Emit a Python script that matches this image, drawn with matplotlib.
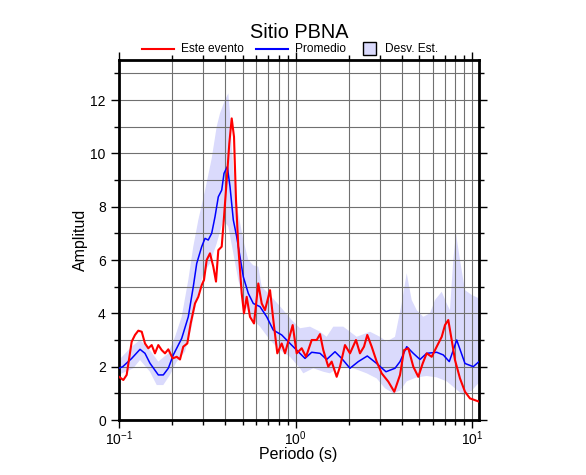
import numpy as np
import matplotlib
matplotlib.use('Agg')
import matplotlib.pyplot as plt
from matplotlib.lines import Line2D
from matplotlib.patches import Rectangle
from matplotlib.ticker import LogLocator, MultipleLocator, NullFormatter

plt.rcParams['font.family'] = ['Liberation Sans', 'DejaVu Sans']
plt.rcParams['mathtext.fontset'] = 'custom'
plt.rcParams['mathtext.rm'] = 'Liberation Sans'
plt.rcParams['mathtext.it'] = 'Liberation Sans:italic'
plt.rcParams['mathtext.bf'] = 'Liberation Sans:bold'

# --- datos ---
# Este evento
evento_T = [0.1, 0.1058, 0.1105, 0.118, 0.1232, 0.1286, 0.1345, 0.1403, 0.1465, 0.1531,
            0.1598, 0.1669, 0.1745, 0.1821, 0.1901, 0.2013, 0.2121, 0.2214, 0.2311, 0.2435,
            0.2545, 0.2692, 0.2811, 0.2938, 0.3027, 0.3135, 0.3273, 0.3417, 0.354, 0.3648,
            0.3813, 0.393, 0.407, 0.421, 0.4344, 0.4476, 0.4594, 0.4734, 0.4948, 0.5098,
            0.528, 0.5512, 0.5808, 0.6143, 0.6422, 0.6706, 0.7157, 0.747, 0.7869, 0.8333,
            0.8699, 0.9616, 1.013, 1.081, 1.144, 1.232, 1.315, 1.373, 1.433, 1.529,
            1.598, 1.706, 1.781, 1.901, 2.029, 2.194, 2.311, 2.435, 2.542, 2.692,
            2.873, 3.067, 3.342, 3.614, 3.894, 4.102, 4.339, 4.63, 4.941, 5.233,
            5.512, 5.884, 6.281, 6.706, 6.998, 7.304, 7.636, 7.971, 8.508, 9.081,
            9.692, 10.9]
evento_A = [1.62, 1.5, 1.69, 2.94, 3.19, 3.35, 3.31, 2.87, 2.69, 2.81,
            2.5, 2.81, 2.62, 2.5, 2.65, 2.31, 2.37, 2.27, 2.75, 2.87,
            3.62, 4.37, 4.62, 5.06, 5.25, 6.0, 6.25, 5.75, 5.19, 6.37,
            6.5, 7.62, 9.0, 10.37, 11.31, 10.62, 8.25, 6.5, 4.75, 4.0,
            4.62, 3.87, 3.62, 5.12, 4.37, 4.12, 4.87, 3.75, 2.5, 2.87,
            2.5, 3.56, 2.5, 2.69, 2.37, 3.0, 3.0, 3.22, 2.62, 2.0,
            2.19, 1.62, 2.0, 2.81, 2.5, 3.0, 2.5, 2.75, 3.19, 2.75,
            2.19, 1.75, 1.44, 1.06, 1.69, 2.62, 2.69, 2.0, 1.62, 2.12,
            2.5, 2.37, 2.75, 3.12, 3.56, 3.75, 3.0, 2.25, 1.56, 1.06,
            0.81, 0.69]

# Promedio
prom_T = [0.1, 0.105, 0.118, 0.1315, 0.1403, 0.1497, 0.1669, 0.1781, 0.1901, 0.2029,
          0.2264, 0.2467, 0.2633, 0.2753, 0.2938, 0.3067, 0.3201, 0.3346, 0.3494, 0.3648,
          0.3813, 0.393, 0.4102, 0.4249, 0.4436, 0.4636, 0.484, 0.5052, 0.5391, 0.5754,
          0.6281, 0.6856, 0.747, 0.8333, 0.9284, 1.013, 1.129, 1.232, 1.373, 1.497,
          1.669, 1.821, 2.029, 2.261, 2.542, 2.873, 3.243, 3.648, 3.894, 4.249,
          4.63, 5.052, 5.512, 6.281, 6.844, 7.4, 7.796, 8.15, 9.081, 10.12,
          10.9]
prom_A = [1.94, 2.0, 2.31, 2.65, 2.5, 2.13, 1.69, 1.69, 1.94, 2.44,
          3.06, 3.87, 5.0, 5.87, 6.5, 6.81, 6.75, 7.0, 7.62, 8.37,
          8.62, 9.25, 9.5, 8.75, 7.5, 6.87, 6.12, 5.37, 4.75, 4.37,
          4.25, 3.87, 3.37, 3.19, 2.87, 2.62, 2.31, 2.54, 2.5, 2.27,
          2.56, 2.31, 1.94, 2.19, 2.4, 2.12, 1.81, 1.94, 2.19, 2.75,
          2.5, 2.27, 2.5, 2.54, 2.44, 2.19, 2.62, 3.0, 2.12, 2.0,
          2.19]

# Desv. Est. (limite superior)
sup_T = [0.1, 0.118, 0.1315, 0.1497, 0.1669, 0.1901, 0.2075, 0.2264, 0.2467, 0.2633,
         0.2811, 0.3067, 0.3346, 0.3572, 0.373, 0.3981, 0.4156, 0.4249, 0.4344, 0.4535,
         0.4734, 0.5052, 0.5391, 0.5754, 0.6143, 0.6422, 0.73, 0.8333, 0.9493, 1.057,
         1.205, 1.373, 1.497, 1.632, 1.859, 2.029, 2.214, 2.633, 3.0, 3.273,
         3.648, 3.981, 4.249, 4.535, 4.84, 5.272, 5.754, 6.143, 6.706, 7.153,
         7.467, 7.796, 8.076, 8.508, 9.081, 9.909, 10.9]
sup_A = [2.25, 2.75, 3.0, 2.62, 2.19, 2.5, 3.12, 3.87, 5.25, 6.5,
         7.5, 8.6, 9.8, 11.0, 11.5, 12.0, 12.25, 11.5, 10.25, 8.7,
         7.75, 6.75, 6.0, 5.8, 5.75, 5.0, 4.62, 4.19, 3.75, 3.44,
         3.5, 3.31, 3.12, 3.5, 3.5, 3.31, 3.12, 3.31, 3.12, 2.94,
         3.12, 4.37, 5.5, 4.5, 4.12, 3.87, 4.0, 4.5, 4.81, 4.37,
         4.12, 6.0, 7.0, 6.0, 4.87, 4.69, 4.56]

# Desv. Est. (limite inferior)
inf_T = [0.1, 0.1205, 0.1315, 0.1497, 0.1635, 0.1781, 0.1944, 0.2121, 0.2363, 0.2579,
         0.2753, 0.3, 0.3273, 0.3572, 0.3894, 0.4156, 0.4436, 0.4734, 0.5052, 0.5512,
         0.6281, 0.7157, 0.8149, 0.9284, 1.057, 1.104, 1.258, 1.433, 1.564, 1.781,
         2.118, 2.522, 2.873, 3.201, 3.567, 3.894, 4.249, 4.84, 5.512, 6.281,
         7.153, 7.971, 8.882, 9.909, 10.9]
inf_A = [1.7, 1.94, 2.25, 1.81, 1.31, 1.31, 1.69, 2.19, 2.56, 3.5,
         4.5, 5.5, 5.87, 6.62, 7.5, 7.25, 6.25, 5.25, 4.5, 3.87,
         3.5, 3.0, 2.62, 2.37, 1.94, 1.75, 1.94, 1.81, 1.75, 2.0,
         1.94, 1.75, 1.56, 1.19, 1.0, 1.1, 1.45, 1.6, 1.65, 1.6,
         1.45, 1.19, 0.92, 1.1, 1.4]

color_banda = '#dadafc'

W, H = 586, 475
fig = plt.figure(figsize=(W / 100, H / 100), dpi=100)
ax = fig.add_axes([119 / W, 1 - 420 / H, 360 / W, 360 / H])

# banda de desviacion estandar
ax.fill(np.concatenate([sup_T, inf_T[::-1]]), np.concatenate([sup_A, inf_A[::-1]]),
        color=color_banda, lw=0, zorder=1)
ax.plot(prom_T, prom_A, color='#0000ff', lw=1.1, zorder=3)
ax.plot(evento_T, evento_A, color='#ff0000', lw=1.5, zorder=4)

ax.set_xscale('log')
ax.set_xlim(0.1, 10.9)
ax.set_ylim(0, 13.5)

ax.xaxis.set_major_locator(LogLocator(base=10))
ax.xaxis.set_minor_locator(LogLocator(base=10, subs=np.arange(2, 10)))
ax.xaxis.set_minor_formatter(NullFormatter())
ax.yaxis.set_major_locator(MultipleLocator(2))
ax.yaxis.set_minor_locator(MultipleLocator(1))

ax.set_axisbelow('line')
ax.grid(True, which='both', color='#707070', lw=0.8)

ax.tick_params(which='both', direction='out', top=True, right=True, labelsize=10,
               width=1)
ax.tick_params(which='major', length=6)
ax.tick_params(which='minor', length=3.5)
ax.tick_params(axis='y', pad=3.5)
ax.tick_params(axis='x', pad=1)
for s in ax.spines.values():
    s.set_linewidth(2)

ax.text(0.497, -0.097, 'Periodo (s)', transform=ax.transAxes, ha='center', va='center',
        fontsize=11.5)
ax.text(-0.106, 0.5, 'Amplitud', transform=ax.transAxes, ha='center', va='center',
        rotation=90, fontsize=11.5)

# titulo y leyenda
fig.text(299 / W, 1 - 33 / H, 'Sitio PBNA', ha='center', va='center', fontsize=14.3)
ly = 1 - 49 / H
fig.add_artist(Line2D([142 / W, 174 / W], [ly, ly], color='#ff0000', lw=1.5))
fig.text(181 / W, ly, 'Este evento', va='center', fontsize=8.6)
fig.add_artist(Line2D([256 / W, 288 / W], [ly, ly], color='#0000ff', lw=1.5))
fig.text(295 / W, ly, 'Promedio', va='center', fontsize=8.6)
fig.add_artist(Rectangle((363 / W, 1 - 55 / H), 13 / W, 13 / H, transform=fig.transFigure,
                         facecolor=color_banda, edgecolor='black', lw=1))
fig.text(385 / W, ly, 'Desv. Est.', va='center', fontsize=8.6)

fig.savefig('out.png', dpi=100)
